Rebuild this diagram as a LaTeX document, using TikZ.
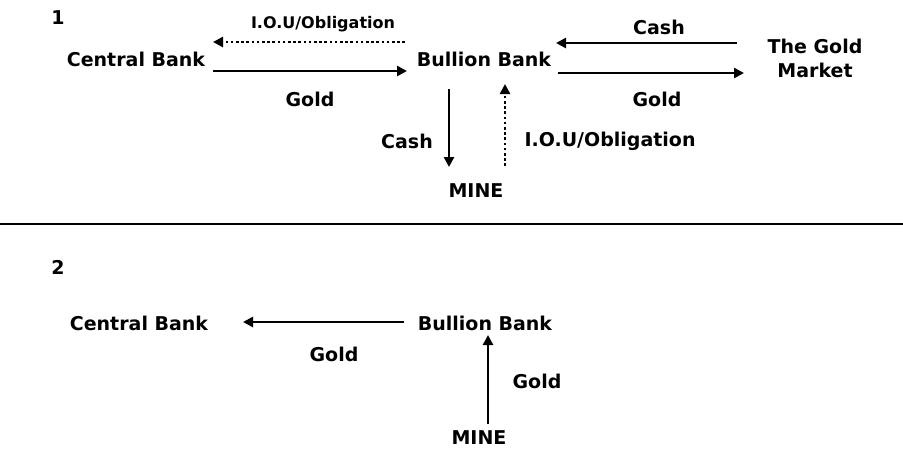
\documentclass[tikz,border=0pt]{standalone}
\usepackage{fontspec}
\setmainfont{DejaVu Sans}
\usepackage{tikz}
\usetikzlibrary{arrows.meta}

\begin{document}
\begin{tikzpicture}[
        x=1pt, y=-1pt,
        every node/.style = {font=\bfseries\fontsize{19}{24}\selectfont, inner sep=0pt, align=center},
        small/.style = {font=\bfseries\fontsize{16}{18}\selectfont},
        flow/.style = {line width=2.6pt, -{Triangle[length=10pt, width=10pt]}},
        promise/.style = {flow, dash pattern=on 2.6pt off 2.6pt},
      ]
      \useasboundingbox (0,0) rectangle (903,451);

      % 1
      \node (one) at (58,18) {1};
      \node (cb1) at (136,59) {Central Bank};
      \node (bb1) at (484,59) {Bullion Bank};
      \node (gm) at (815,58) {The Gold\\Market};
      \node (mine1) at (476,191) {MINE};
      \node[small] (iou1) at (323,24) {I.O.U/Obligation};
      \node (gold1) at (310,99) {Gold};
      \node (cash1) at (659,27) {Cash};
      \node (gold2) at (657,99) {Gold};
      \node (cash2) at (407,141) {Cash};
      \node (iou2) at (610,141) {I.O.U/Obligation};

      \coordinate (a1) at (405,42);  \coordinate (a2) at (213,42);
      \coordinate (b1) at (213,71);  \coordinate (b2) at (407,71);
      \coordinate (c1) at (737,43);  \coordinate (c2) at (556,43);
      \coordinate (d1) at (558,73);  \coordinate (d2) at (744,73);
      \coordinate (e1) at (449,89);  \coordinate (e2) at (449,167);
      \coordinate (f1) at (505,166); \coordinate (f2) at (505,84);

      \draw[promise] (a1) -- (a2);
      \draw[flow] (b1) -- (b2);
      \draw[flow] (c1) -- (c2);
      \draw[flow] (d1) -- (d2);
      \draw[flow] (e1) -- (e2);
      \draw[promise] (f1) -- (f2);

      \coordinate (l1) at (0,224); \coordinate (l2) at (903,224);
      \draw[line width=2.4pt] (l1) -- (l2);

      % 2
      \node (two) at (58,267) {2};
      \node (cb2) at (139,323) {Central Bank};
      \node (bb2) at (485,323) {Bullion Bank};
      \node (mine2) at (479,438) {MINE};
      \node (gold3) at (334,354) {Gold};
      \node (gold4) at (537,381) {Gold};

      \coordinate (g1) at (404,322); \coordinate (g2) at (243,322);
      \coordinate (h1) at (488,424); \coordinate (h2) at (488,335);
      \draw[flow] (g1) -- (g2);
      \draw[flow] (h1) -- (h2);
    \end{tikzpicture}
\end{document}
